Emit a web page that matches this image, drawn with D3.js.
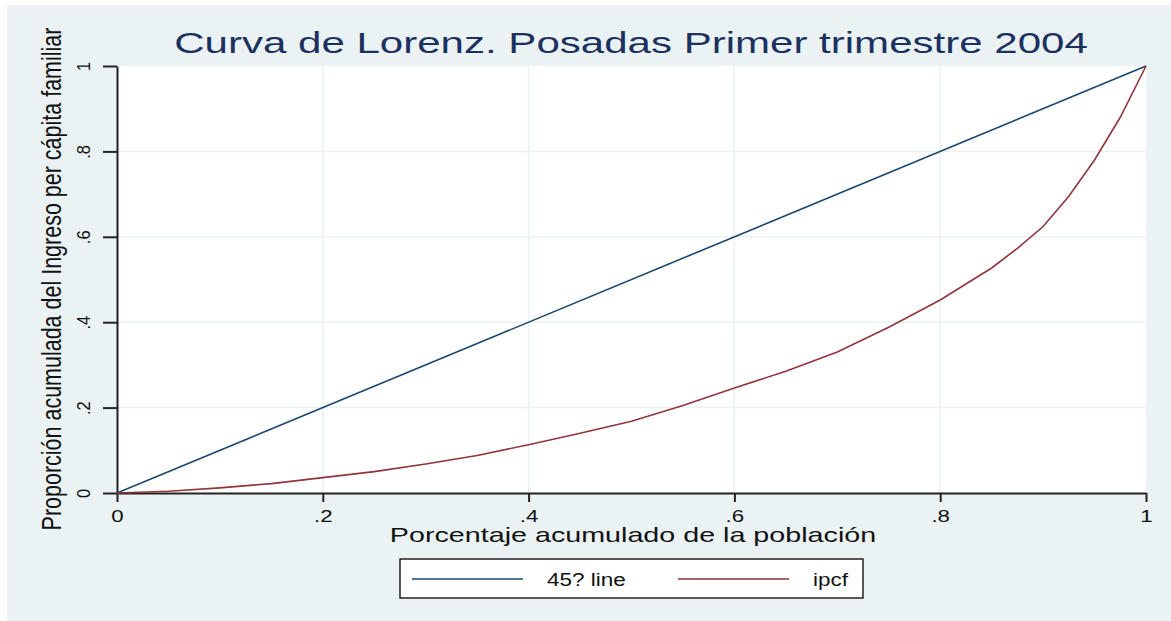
<!DOCTYPE html>
<html>
<head>
<meta charset="utf-8">
<script src="https://cdn.jsdelivr.net/npm/d3@7"></script>
<style>
    body { margin: 0; background: #ffffff; }
    svg { display: block; font-family: "Liberation Sans", Arial, sans-serif; }
</style>
</head>
<body>
<svg id="chart" width="1171" height="621"></svg>
<script>
// Data
const POP_SHARE = [0, 0.05, 0.1, 0.15, 0.2, 0.25, 0.3, 0.35, 0.4, 0.45, 0.5, 0.55,
    0.6, 0.65, 0.7, 0.75, 0.8, 0.85, 0.875, 0.9, 0.925, 0.95, 0.975, 1];
const IPCF_SHARE = [0, 0.004, 0.012, 0.022, 0.036, 0.05, 0.068, 0.088, 0.113, 0.14,
    0.168, 0.205, 0.246, 0.285, 0.33, 0.388, 0.452, 0.527, 0.573, 0.624, 0.695,
    0.78, 0.88, 1];
const EQUALITY_X = [0, 1];
const EQUALITY_Y = [0, 1];
const TICKS = [0, 0.2, 0.4, 0.6, 0.8, 1];
const TICK_LABELS = ["0", ".2", ".4", ".6", ".8", "1"];
const LEGEND_LABELS = ["45? line", "ipcf"];
const COLORS = ["#1a476f", "#90353b"];

const svg = d3.select("#chart");
const BG = "#eaf2f3";
const INK = "#111";

// The original graph is stretched sideways, text included
const STRETCH = 1.45;

// Outer background
svg.append("rect")
    .attr("x", 7).attr("y", 5)
    .attr("width", 1171 - 7).attr("height", 621 - 5)
    .attr("fill", BG);

const xScale = d3.scaleLinear().domain([0, 1]).range([117, 1146]);
const yScale = d3.scaleLinear().domain([0, 1]).range([493, 66]);

// Plot region
svg.append("rect")
    .attr("x", xScale(0)).attr("y", yScale(1))
    .attr("width", xScale(1) - xScale(0))
    .attr("height", yScale(0) - yScale(1))
    .attr("fill", "#ffffff");

// Grid
const grid = svg.append("g");
TICKS.slice(1, 5).forEach((t) => {
    grid.append("line")
        .attr("x1", xScale(t)).attr("x2", xScale(t))
        .attr("y1", yScale(0)).attr("y2", yScale(1))
        .attr("stroke", BG).attr("stroke-width", 1.5);
    grid.append("line")
        .attr("x1", xScale(0)).attr("x2", xScale(1))
        .attr("y1", yScale(t)).attr("y2", yScale(t))
        .attr("stroke", BG).attr("stroke-width", 1.5);
});

// Axes
const xAxis = d3.axisBottom(xScale)
    .tickValues(TICKS)
    .tickFormat((d, i) => TICK_LABELS[i])
    .tickSize(9)
    .tickSizeOuter(0);
const gx = svg.append("g")
    .attr("transform", "translate(0," + yScale(0) + ")")
    .call(xAxis);
gx.select(".domain").attr("stroke", "#222").attr("stroke-width", 2);
gx.selectAll(".tick line").attr("stroke", "#222").attr("stroke-width", 2);
gx.selectAll(".tick text")
    .attr("y", 0).attr("dy", 0)
    .attr("transform", "translate(0,29) scale(1.35,1)")
    .attr("font-size", 16.5)
    .attr("font-family", "Liberation Sans, Arial, sans-serif")
    .attr("fill", INK);

const yAxis = d3.axisLeft(yScale)
    .tickValues(TICKS)
    .tickFormat((d, i) => TICK_LABELS[i])
    .tickSize(14)
    .tickSizeOuter(0);
const gy = svg.append("g")
    .attr("transform", "translate(" + xScale(0) + ",0)")
    .call(yAxis);
gy.select(".domain").attr("stroke", "#222").attr("stroke-width", 2);
gy.selectAll(".tick line").attr("stroke", "#222").attr("stroke-width", 2);
gy.selectAll(".tick text")
    .attr("x", 0).attr("dy", 0)
    .attr("transform", "translate(-27,0) scale(1.1,1) rotate(-90)")
    .attr("text-anchor", "middle")
    .attr("font-size", 16.5)
    .attr("font-family", "Liberation Sans, Arial, sans-serif")
    .attr("fill", INK);

// Lines
const line = d3.line()
    .x((d) => xScale(d[0]))
    .y((d) => yScale(d[1]));

const series = [
    EQUALITY_X.map((x, i) => [x, EQUALITY_Y[i]]),
    POP_SHARE.map((x, i) => [x, IPCF_SHARE[i]])
];
series.forEach((data, i) => {
    svg.append("path")
        .datum(data)
        .attr("d", line)
        .attr("fill", "none")
        .attr("stroke", COLORS[i])
        .attr("stroke-width", 1.6);
});

// Titles
svg.append("text")
    .attr("transform", "translate(631,53) scale(" + STRETCH + ",1)")
    .attr("text-anchor", "middle")
    .attr("font-size", 29)
    .attr("fill", "#1c3160")
    .text("Curva de Lorenz. Posadas Primer trimestre 2004");

svg.append("text")
    .attr("transform", "translate(633,542) scale(1.4,1)")
    .attr("text-anchor", "middle")
    .attr("font-size", 20.5)
    .attr("fill", INK)
    .text("Porcentaje acumulado de la población");

svg.append("text")
    .attr("transform", "translate(61,279) scale(1.3,1) rotate(-90)")
    .attr("text-anchor", "middle")
    .attr("font-size", 21.5)
    .attr("fill", INK)
    .text("Proporción acumulada del Ingreso per cápita familiar");

// Legend
const legend = svg.append("g");
legend.append("rect")
    .attr("x", 400).attr("y", 559)
    .attr("width", 463).attr("height", 39)
    .attr("fill", "#ffffff")
    .attr("stroke", "#222").attr("stroke-width", 1.5);

const legendX = [412, 678];
const legendTextX = [547, 813];
LEGEND_LABELS.forEach((label, i) => {
    legend.append("line")
        .attr("x1", legendX[i]).attr("x2", legendX[i] + 111)
        .attr("y1", 579).attr("y2", 579)
        .attr("stroke", COLORS[i]).attr("stroke-width", 1.6);
    legend.append("text")
        .attr("transform", "translate(" + legendTextX[i] + ",586) scale(1.25,1)")
        .attr("font-size", 18)
        .attr("fill", INK)
        .text(label);
});
</script>
</body>
</html>
